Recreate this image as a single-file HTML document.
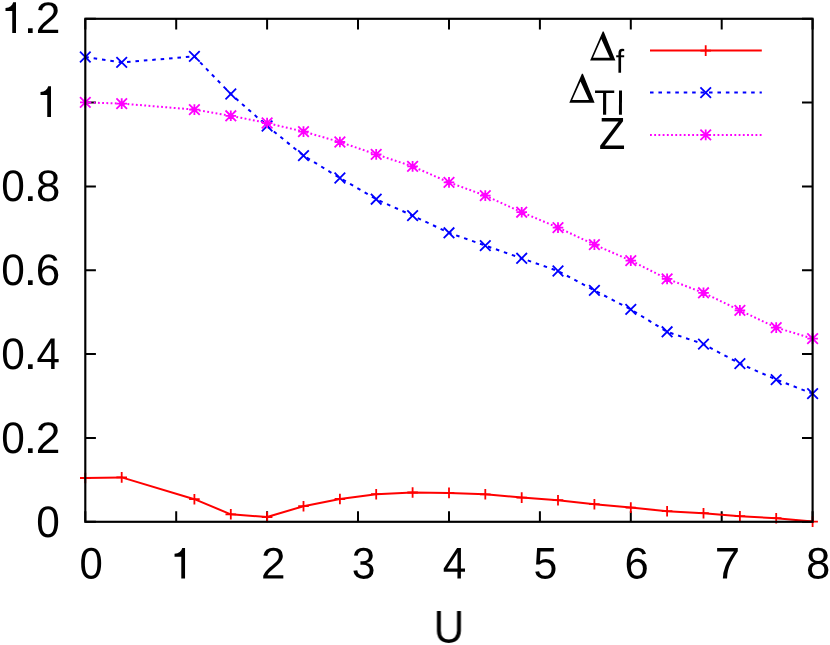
<!DOCTYPE html>
<html><head><meta charset="utf-8"><title>plot</title>
<style>html,body{margin:0;padding:0;background:#fff;}svg{display:block;}text{font-family:"Liberation Sans",sans-serif;fill:#000;}</style>
</head><body>
<svg width="830" height="645" viewBox="0 0 830 645">
<rect x="0" y="0" width="830" height="645" fill="#fff"/>
<path d="M85.3 521.8V511.2M85.3 18.8V29.4M176.2 521.8V511.2M176.2 18.8V29.4M267.1 521.8V511.2M267.1 18.8V29.4M358.0 521.8V511.2M358.0 18.8V29.4M449.0 521.8V511.2M449.0 18.8V29.4M539.9 521.8V511.2M539.9 18.8V29.4M630.8 521.8V511.2M630.8 18.8V29.4M721.7 521.8V511.2M721.7 18.8V29.4M812.6 521.8V511.2M812.6 18.8V29.4M85.3 521.8H95.9M812.6 521.8H802.0M85.3 438.0H95.9M812.6 438.0H802.0M85.3 354.1H95.9M812.6 354.1H802.0M85.3 270.3H95.9M812.6 270.3H802.0M85.3 186.5H95.9M812.6 186.5H802.0M85.3 102.6H95.9M812.6 102.6H802.0M85.3 18.8H95.9M812.6 18.8H802.0" stroke="#000" stroke-width="2.0" fill="none"/>
<g style="will-change:transform">
<text transform="translate(36.30 536.90) rotate(0.05) scale(0.958 1)" font-size="44.2">0</text>
<text transform="translate(1.30 452.90) rotate(0.05) scale(0.958 1)" font-size="44.2">0</text>
<text transform="translate(23.49 452.90) rotate(0.05) scale(1.117 1)" font-size="44.2">.</text>
<text transform="translate(35.72 452.90) rotate(0.05) scale(1.003 1)" font-size="44.2">2</text>
<text transform="translate(1.30 368.90) rotate(0.05) scale(0.958 1)" font-size="44.2">0</text>
<text transform="translate(23.49 368.90) rotate(0.05) scale(1.117 1)" font-size="44.2">.</text>
<text transform="translate(36.43 368.90) rotate(0.05) scale(0.952 1)" font-size="44.2">4</text>
<text transform="translate(1.30 284.90) rotate(0.05) scale(0.958 1)" font-size="44.2">0</text>
<text transform="translate(23.49 284.90) rotate(0.05) scale(1.117 1)" font-size="44.2">.</text>
<text transform="translate(35.87 284.90) rotate(0.05) scale(0.995 1)" font-size="44.2">6</text>
<text transform="translate(1.30 200.90) rotate(0.05) scale(0.958 1)" font-size="44.2">0</text>
<text transform="translate(23.49 200.90) rotate(0.05) scale(1.117 1)" font-size="44.2">.</text>
<text transform="translate(36.06 200.90) rotate(0.05) scale(0.986 1)" font-size="44.2">8</text>
<path d="M0 0V-30.6H-2.8C-3.6 -27.3 -6.2 -25.1 -10.5 -24.8V-21.9H-3.75V0Z" transform="translate(51.00 116.90)" fill="#000"/>
<path d="M0 0V-30.6H-2.8C-3.6 -27.3 -6.2 -25.1 -10.5 -24.8V-21.9H-3.75V0Z" transform="translate(16.00 32.90)" fill="#000"/>
<text transform="translate(23.49 32.90) rotate(0.05) scale(1.117 1)" font-size="44.2">.</text>
<text transform="translate(35.72 32.90) rotate(0.05) scale(1.003 1)" font-size="44.2">2</text>
<text transform="translate(79.47 578.60) rotate(0.05) scale(0.947 1)" font-size="44.2">0</text>
<path d="M0 0V-30.6H-2.8C-3.6 -27.3 -6.2 -25.1 -10.5 -24.8V-21.9H-3.75V0Z" transform="translate(185.05 578.60)" fill="#000"/>
<text transform="translate(260.88 578.60) rotate(0.05) scale(0.998 1)" font-size="44.2">2</text>
<text transform="translate(351.78 578.60) rotate(0.05) scale(0.964 1)" font-size="44.2">3</text>
<text transform="translate(442.63 578.60) rotate(0.05) scale(0.956 1)" font-size="44.2">4</text>
<text transform="translate(533.59 578.60) rotate(0.05) scale(0.969 1)" font-size="44.2">5</text>
<text transform="translate(624.49 578.60) rotate(0.05) scale(0.986 1)" font-size="44.2">6</text>
<text transform="translate(714.87 578.60) rotate(0.05) scale(1.030 1)" font-size="44.2">7</text>
<text transform="translate(805.90 578.60) rotate(0.05) scale(0.988 1)" font-size="44.2">8</text>
<text transform="translate(433.64 643.00) rotate(0.05) scale(0.919 1)" font-size="46.0">U</text>
</g>
<polyline points="85.3,478.0 121.7,477.4 194.4,499.2 230.8,514.3 267.1,517.0 303.5,506.2 339.9,499.0 376.2,494.2 412.6,492.5 449.0,492.9 485.3,494.3 521.7,497.6 558.0,500.2 594.4,504.2 630.8,507.6 667.1,511.2 703.5,513.2 739.9,516.2 776.2,518.2 812.6,521.6" fill="none" stroke="#f00" stroke-width="2.0" stroke-linejoin="round"/>
<path d="M80.0 478.0H90.6M85.3 472.7V483.3M116.4 477.4H127.0M121.7 472.1V482.7M189.1 499.2H199.7M194.4 493.9V504.5M225.5 514.3H236.1M230.8 509.0V519.6M261.8 517.0H272.4M267.1 511.7V522.3M298.2 506.2H308.8M303.5 500.9V511.5M334.6 499.0H345.2M339.9 493.7V504.3M370.9 494.2H381.5M376.2 488.9V499.5M407.3 492.5H417.9M412.6 487.2V497.8M443.7 492.9H454.3M449.0 487.6V498.2M480.0 494.3H490.6M485.3 489.0V499.6M516.4 497.6H527.0M521.7 492.3V502.9M552.7 500.2H563.3M558.0 494.9V505.5M589.1 504.2H599.7M594.4 498.9V509.5M625.5 507.6H636.1M630.8 502.3V512.9M661.8 511.2H672.4M667.1 505.9V516.5M698.2 513.2H708.8M703.5 507.9V518.5M734.6 516.2H745.2M739.9 510.9V521.5M770.9 518.2H781.5M776.2 512.9V523.5M807.3 521.6H817.9M812.6 516.3V526.9" stroke="#f00" stroke-width="1.8" fill="none"/>
<polyline points="85.3,57.0 121.7,62.4 194.4,56.4 230.8,94.0 267.1,126.0 303.5,155.6 339.9,178.0 376.2,199.2 412.6,215.6 449.0,232.8 485.3,245.6 521.7,258.3 558.0,271.0 594.4,290.4 630.8,309.4 667.1,331.8 703.5,344.1 739.9,363.6 776.2,379.6 812.6,393.6" fill="none" stroke="#00f" stroke-width="2.0" stroke-dasharray="3.55 4.88" stroke-linejoin="round"/>
<path d="M80.0 51.7L90.6 62.3M80.0 62.3L90.6 51.7M116.4 57.1L127.0 67.7M116.4 67.7L127.0 57.1M189.1 51.1L199.7 61.7M189.1 61.7L199.7 51.1M225.5 88.7L236.1 99.3M225.5 99.3L236.1 88.7M261.8 120.7L272.4 131.3M261.8 131.3L272.4 120.7M298.2 150.3L308.8 160.9M298.2 160.9L308.8 150.3M334.6 172.7L345.2 183.3M334.6 183.3L345.2 172.7M370.9 193.9L381.5 204.5M370.9 204.5L381.5 193.9M407.3 210.3L417.9 220.9M407.3 220.9L417.9 210.3M443.7 227.5L454.3 238.1M443.7 238.1L454.3 227.5M480.0 240.3L490.6 250.9M480.0 250.9L490.6 240.3M516.4 253.0L527.0 263.6M516.4 263.6L527.0 253.0M552.7 265.7L563.3 276.3M552.7 276.3L563.3 265.7M589.1 285.1L599.7 295.7M589.1 295.7L599.7 285.1M625.5 304.1L636.1 314.7M625.5 314.7L636.1 304.1M661.8 326.5L672.4 337.1M661.8 337.1L672.4 326.5M698.2 338.8L708.8 349.4M698.2 349.4L708.8 338.8M734.6 358.3L745.2 368.9M734.6 368.9L745.2 358.3M770.9 374.3L781.5 384.9M770.9 384.9L781.5 374.3M807.3 388.3L817.9 398.9M807.3 398.9L817.9 388.3" stroke="#00f" stroke-width="1.8" fill="none"/>
<polyline points="85.3,102.4 121.7,103.6 194.4,109.6 230.8,115.8 267.1,123.0 303.5,131.6 339.9,142.0 376.2,154.4 412.6,166.4 449.0,182.4 485.3,195.6 521.7,212.2 558.0,227.6 594.4,244.6 630.8,260.6 667.1,278.9 703.5,292.8 739.9,310.4 776.2,327.6 812.6,338.6" fill="none" stroke="#f0f" stroke-width="2.0" stroke-dasharray="1.82 2.4" stroke-linejoin="round"/>
<path d="M80.0 102.4H90.6M85.3 97.1V107.7M80.0 97.1L90.6 107.7M80.0 107.7L90.6 97.1M116.4 103.6H127.0M121.7 98.3V108.9M116.4 98.3L127.0 108.9M116.4 108.9L127.0 98.3M189.1 109.6H199.7M194.4 104.3V114.9M189.1 104.3L199.7 114.9M189.1 114.9L199.7 104.3M225.5 115.8H236.1M230.8 110.5V121.1M225.5 110.5L236.1 121.1M225.5 121.1L236.1 110.5M261.8 123.0H272.4M267.1 117.7V128.3M261.8 117.7L272.4 128.3M261.8 128.3L272.4 117.7M298.2 131.6H308.8M303.5 126.3V136.9M298.2 126.3L308.8 136.9M298.2 136.9L308.8 126.3M334.6 142.0H345.2M339.9 136.7V147.3M334.6 136.7L345.2 147.3M334.6 147.3L345.2 136.7M370.9 154.4H381.5M376.2 149.1V159.7M370.9 149.1L381.5 159.7M370.9 159.7L381.5 149.1M407.3 166.4H417.9M412.6 161.1V171.7M407.3 161.1L417.9 171.7M407.3 171.7L417.9 161.1M443.7 182.4H454.3M449.0 177.1V187.7M443.7 177.1L454.3 187.7M443.7 187.7L454.3 177.1M480.0 195.6H490.6M485.3 190.3V200.9M480.0 190.3L490.6 200.9M480.0 200.9L490.6 190.3M516.4 212.2H527.0M521.7 206.9V217.5M516.4 206.9L527.0 217.5M516.4 217.5L527.0 206.9M552.7 227.6H563.3M558.0 222.3V232.9M552.7 222.3L563.3 232.9M552.7 232.9L563.3 222.3M589.1 244.6H599.7M594.4 239.3V249.9M589.1 239.3L599.7 249.9M589.1 249.9L599.7 239.3M625.5 260.6H636.1M630.8 255.3V265.9M625.5 255.3L636.1 265.9M625.5 265.9L636.1 255.3M661.8 278.9H672.4M667.1 273.6V284.2M661.8 273.6L672.4 284.2M661.8 284.2L672.4 273.6M698.2 292.8H708.8M703.5 287.5V298.1M698.2 287.5L708.8 298.1M698.2 298.1L708.8 287.5M734.6 310.4H745.2M739.9 305.1V315.7M734.6 305.1L745.2 315.7M734.6 315.7L745.2 305.1M770.9 327.6H781.5M776.2 322.3V332.9M770.9 322.3L781.5 332.9M770.9 332.9L781.5 322.3M807.3 338.6H817.9M812.6 333.3V343.9M807.3 333.3L817.9 343.9M807.3 343.9L817.9 333.3" stroke="#f0f" stroke-width="1.8" fill="none"/>
<path d="M650.0 50.6H761.8" stroke="#f00" stroke-width="2.0" fill="none"/>
<path d="M700.4 50.6H711.0M705.7 45.3V55.9" stroke="#f00" stroke-width="1.8" fill="none"/>
<path d="M650.0 92.6H761.8" stroke="#00f" stroke-width="2.0" stroke-dasharray="3.55 4.88" fill="none"/>
<path d="M700.4 87.3L711.0 97.9M700.4 97.9L711.0 87.3" stroke="#00f" stroke-width="1.8" fill="none"/>
<path d="M650.0 134.9H761.8" stroke="#f0f" stroke-width="2.0" stroke-dasharray="1.82 2.4" fill="none"/>
<path d="M700.4 134.9H711.0M705.7 129.6V140.2M700.4 129.6L711.0 140.2M700.4 140.2L711.0 129.6" stroke="#f0f" stroke-width="1.8" fill="none"/>
<g style="will-change:transform">
<path fill="#000" fill-rule="evenodd" d="M602.7 31.4H603.7L615.4 60.4H590.1ZM601.3 39.1L609.8 57.7H593.0Z"/>
<text transform="translate(615.77 72.80) rotate(0.05) scale(0.909 1)" font-size="33.2">f</text>
<path fill="#000" fill-rule="evenodd" d="M581.9 73.7H582.9L594.6 102.7H569.3ZM580.5 81.4L589.0 100.0H572.2Z"/>
<text transform="translate(594.34 114.80) rotate(0.05) scale(0.959 1)" font-size="35.4">T</text>
<text transform="translate(615.93 114.80) rotate(0.05) scale(0.909 1)" font-size="35.4">I</text>
<text transform="translate(598.67 149.00) rotate(0.05) scale(0.969 1)" font-size="45.0">Z</text>
</g>
<rect x="85.3" y="18.8" width="727.3" height="503.0" fill="none" stroke="#000" stroke-width="2.15"/>
</svg></body></html>
